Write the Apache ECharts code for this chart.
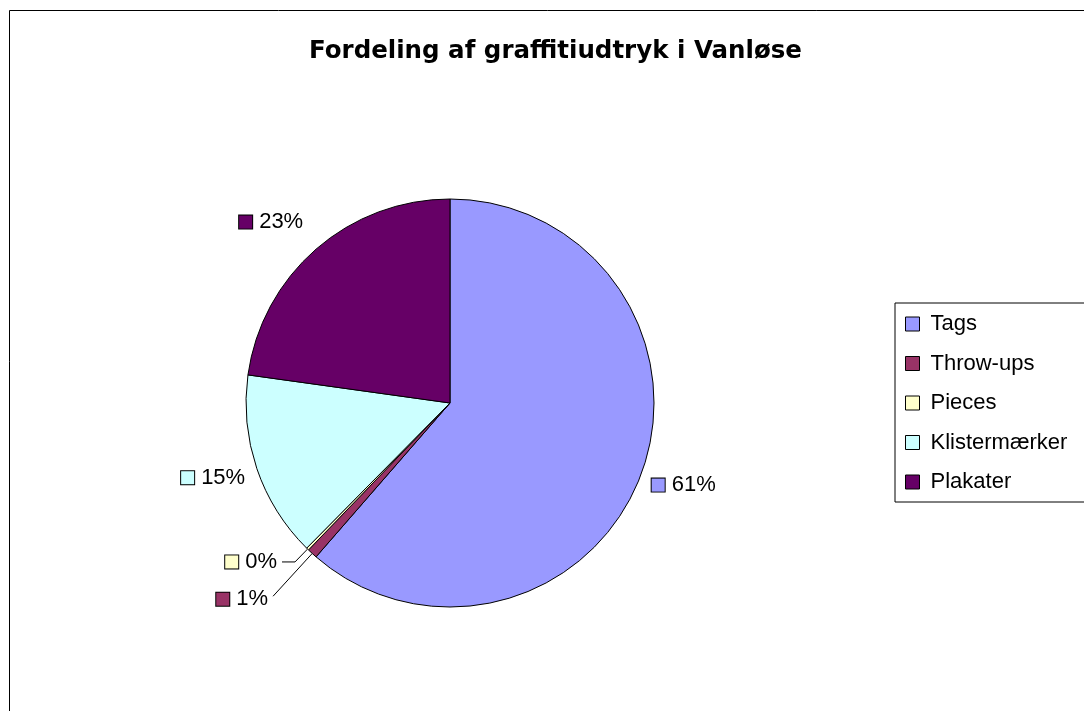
<!DOCTYPE html>
<html><head><meta charset="utf-8">
<script src="https://cdn.jsdelivr.net/npm/echarts@6/dist/echarts.min.js"></script>
<style>html,body{margin:0;padding:0;background:#fff}#c{width:1084px;height:711px}</style>
</head><body><div id="c"></div>
<script>
const chartTitle = 'Fordeling af graffitiudtryk i Vanløse';
const categories = ['Tags', 'Throw-ups', 'Pieces', 'Klistermærker', 'Plakater'];
const values = [61.4, 0.8, 0.2, 14.8, 22.8];
const colors = ['#9999FF', '#993366', '#FFFFCC', '#CCFFFF', '#660066'];

const FONT = '"Liberation Sans", Arial, sans-serif';
const TITLE_FONT = '"DejaVu Sans", "Liberation Sans", sans-serif';
// label-line styling per slice
const lineLen = [6, 58, 18, 7, 12];
const lineLen2 = [0, 0, 13, 0, 0];
const lineShow = [false, true, true, false, false];
const labelPad = [[17, 0, 0, 0], [6, 0, 0, 0], [0, 0, 0, 0], [14, 0, 0, 0], [0, 0, 36, 0]];

const rich = { t: { fontSize: 22, fontFamily: FONT, color: '#000', padding: [0, 0, 0, 7] } };
colors.forEach((c, i) => {
  rich['sq' + i] = { width: 13, height: 13, backgroundColor: c, borderColor: '#000', borderWidth: 1 };
});

const data = categories.map((name, i) => ({
  name: name,
  value: values[i],
  itemStyle: { color: colors[i] },
  label: { padding: labelPad[i] },
  labelLine: { show: lineShow[i], length: lineLen[i], length2: lineLen2[i], lineStyle: { color: '#000', width: 1 } }
}));

const chart = echarts.init(document.getElementById('c'));
chart.setOption({
  animation: false,
  backgroundColor: '#fff',
  title: {
    text: chartTitle, left: 304, top: 35,
    padding: 5,
    textStyle: { fontFamily: TITLE_FONT, fontSize: 24.5, lineHeight: 24, fontWeight: 'bold', color: '#000' }
  },
  graphic: [{
    type: 'rect', silent: true, z: -10,
    shape: { x: 9.5, y: 10.5, width: 1200, height: 800 },
    style: { fill: 'none', stroke: '#000', lineWidth: 1 }
  }],
  legend: {
    orient: 'vertical', left: 895, top: 303,
    padding: [9, 40, 8, 10], itemWidth: 14, itemHeight: 14, itemGap: 15.5,
    borderColor: '#000', borderWidth: 1, backgroundColor: '#fff',
    icon: 'rect', itemStyle: { borderColor: '#000', borderWidth: 1 },
    textStyle: { fontFamily: FONT, fontSize: 22, color: '#000', lineHeight: 24, padding: [0, 0, 0, 6] },
    data: categories
  },
  series: [{
    type: 'pie', center: [450, 403], radius: 204, startAngle: 90, clockwise: true,
    avoidLabelOverlap: true,
    itemStyle: { borderColor: '#000', borderWidth: 1 },
    emphasis: { disabled: true },
    label: {
      show: true, position: 'outside', alignTo: 'none', distanceToLabelLine: 5,
      formatter: p => '{sq' + p.dataIndex + '|}{t|' + Math.round(p.percent) + '%}',
      rich: rich
    },
    data: data
  }]
});
</script></body></html>
